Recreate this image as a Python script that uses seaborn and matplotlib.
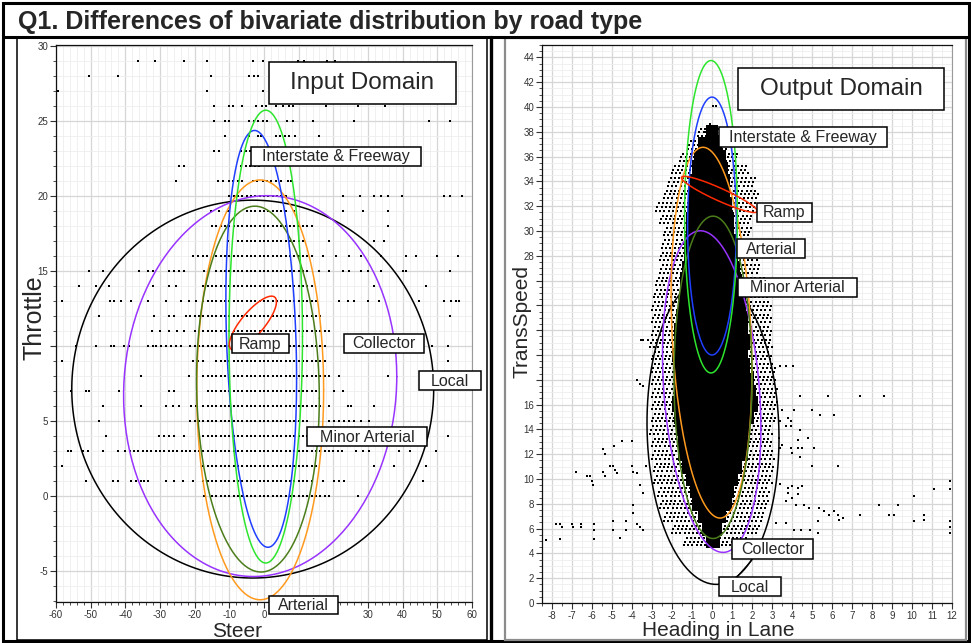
import numpy as np
import pandas as pd
import matplotlib
matplotlib.use("Agg")
import matplotlib.pyplot as plt
import seaborn as sns
from matplotlib.patches import Rectangle

sns.set_theme(style="white")
plt.rcParams['font.family'] = ['Liberation Sans', 'DejaVu Sans']
plt.rcParams['axes.unicode_minus'] = False

W, H = 971, 643

title = "Q1. Differences of bivariate distribution by road type"
road_types = ["Local", "Collector", "Arterial", "Minor Arterial",
              "Interstate", "Freeway", "Ramp"]
road_colors = ["#000000", "#9933ff", "#ff9a1f", "#4b7d1a",
               "#1f3fff", "#2ee52e", "#ff2a00"]

# density ellipses, input domain (Steer x Throttle): centre, spread, correlation
in_cx = [-3.25, -1.1, -1.1, -1.75, -0.8, 0.5, -3.2]
in_cy = [7.1, 7.3, 7.05, 7.1, 10.45, 10.6, 11.5]
in_sx = [52.2, 39.4, 18.3, 17.7, 10.2, 10.6, 6.8]
in_sy = [12.6, 12.7, 14.0, 12.2, 13.9, 15.1, 1.8]
in_rho = [0.0, 0.05, 0.0, -0.05, -0.19, 0.0, 0.79]

# density ellipses, output domain (Heading in Lane x TransSpeed)
out_cx = [0.05, -0.015, -0.025, 0.05, 0.0, -0.05, 0.37]
out_cy = [13.9, 17.05, 21.8, 18.2, 30.4, 31.15, 32.95]
out_sx = [3.3, 2.46, 2.02, 1.95, 1.22, 1.32, 1.9]
out_sy = [12.4, 12.97, 14.95, 13.0, 10.4, 12.6, 1.46]
out_rho = [-0.05, -0.23, -0.21, 0.0, 0.0, 0.0, -0.925]

# input points: filled runs of steer values (1.25 deg grid) per throttle row
in_run_throttle = [20, 19, 18, 17, 16, 15, 14, 13, 12, 11, 10,
                   9, 8, 7, 6, 5, 4, 3, 2, 1, 0]
in_run_lo = [-10.5, -6.2, -15.3, -7.6, -14.8, -14.8, -18.7, -17.7, -23.5, -20.0, -22.0,
             -14.8, -18.7, -16.3, -17.7, -21.5, -18.7, -40.0, -18.7, -17.7, -15.8]
in_run_hi = [7.3, 7.3, 14.0, 12.1, 14.0, 13.1, 14.0, 15.0, 16.9, 19.0, 17.9,
             17.9, 17.9, 16.0, 16.9, 13.1, 13.1, 23.0, 15.0, 14.0, 19.8]

# input points: isolated steer values per throttle row
in_loose = {
    29: [-36.3, -31.4, -23.2, -16.3, -3.1, -0.2, 9.9, 11.6, 18.1, 20.6],
    28: [-50.4, -42.2, -15.2, -4.2, -3.0, -1.6],
    27: [-59.5, -16.3, -0.4],
    26: [-14.3, -10.2, -9.0, -6.4, -2.3, -0.7, 0.6, 3.5, 5.4, 7.3, 8.3, 18.0, 27.0, 35.0],
    25: [-14.3, -11.2, -10.2, -4.2, -3.0, -1.6, -0.4, 0.8, 6.5, 8.3, 14.0, 25.9, 47.7, 53.7],
    24: [-11.2, -4.2, -1.8, -0.8, 3.5, 4.6, 6.0, 7.3, 9.0, 16.0],
    23: [-14.3, -13.1, -6.6, -5.2, -3.9, -2.6],
    22: [-24.4, -23.2, -6.6, -5.2, -3.9, -2.6, -1.3],
    21: [-25.4, -13.4, -11.9, -10.2, -9.0, -7.6, -6.3, -3.3, -2.0, -0.4, 0.8, 2.0,
         3.5, 4.9, 6.8, 7.8],
    20: [22.7, 27.8, 31.8, 33.7, 35.7, 39.8, 51.8, 53.7, 57.0],
    19: [-15.3, -12.9, -10.5, 8.7, 22.7, 28.5, 35.7],
    18: [35.7],
    17: [-10.5, 18.8, 31.8, 34.7],
    16: [-20.6, -19.1, -17.7, -16.3, 16.9, 20.8, 24.6, 28.0, 33.7, 41.0, 43.8, 49.9, 55.9],
    15: [-50.4, -46.5, -36.0, -33.6, -32.1, -27.3, -25.9, -24.4, -23.0, -17.2, 16.0,
         18.8, 22.7, 24.6, 28.0, 29.9, 33.7, 40.0, 41.0, 53.7],
    14: [-53.3, -48.5, -44.6, -32.1, -27.3, -25.4, 31.8, 46.7],
    13: [-58.3, -44.3, -43.2, -41.3, -38.4, -33.6, -28.3, -23.9, -21.7, -19.6, 21.7,
         24.1, 26.1, 29.9, 33.3, 44.8, 52.0, 53.9, 55.4, 56.3],
    12: [-47.5, -31.6, -27.3, -25.9, 53.7],
    11: [-32.4, -30.0, -27.3, -25.0, -23.0],
    10: [-54.2, -48.5, -44.1, -43.2, -40.3, -38.8, -33.6, -32.1, -31.2, -29.7, -28.3,
         -26.8, -25.4, -23.9, 48.6, 53.0],
    9: [-58.3, -20.6, -19.1, -17.7, 53.0],
    8: [-35.5, -21.5, 18.8, 21.7, 35.7],
    7: [-55.7, -51.3, -50.4, -41.7, -27.3, -25.9, 20.3, 22.7],
    6: [-46.5, -35.5, -28.3, -26.3, -24.4, -21.1, -19.6, 18.8, 24.1, 25.1, 31.8],
    5: [-47.5, 18.8, 20.3, 21.7, 23.2, 24.6, 26.1, 28.0, 30.4],
    4: [-45.6, -30.2, -28.8, -27.3, -25.9, -23.0, 53.0],
    3: [-56.6, -55.7, -52.3, -50.9, -46.5, -42.2, 26.5, 28.5, 30.4, 39.0, 42.0, 49.6],
    2: [-58.3, 31.8, 37.6, 46.7],
    1: [-51.3, -43.7, -42.2, -38.4, -36.9, -35.5, -34.5, -33.6, -28.3, -25.9, -23.5,
        -20.6, 16.9, 20.3, 21.7, 23.2, 45.8],
    0: [-17.2, 27.0],
}

# output points: dense core and speckled halo extents of heading per speed level
out_level = [38, 37, 36, 35, 34, 33, 32, 31, 30, 29, 28, 27, 26, 25, 24, 23, 22,
             21, 20, 19, 18, 17, 16, 15, 14, 13, 12, 11, 10, 9, 8, 7, 6, 5]
out_core_lo = [-0.2, -0.6, -0.8, -0.9, -1.0, -1.1, -1.1, -1.2, -1.2, -1.3, -1.3, -1.4,
               -1.5, -1.5, -1.6, -1.7, -1.8, -1.8, -1.9, -1.8, -1.8, -1.8, -1.9, -1.8,
               -1.7, -1.6, -1.6, -1.4, -1.2, -1.0, -0.9, -0.6, -0.4, -0.2]
out_core_hi = [0.2, 0.4, 0.6, 0.7, 0.8, 0.8, 0.9, 1.0, 1.0, 1.1, 1.2, 1.3,
               1.4, 1.5, 1.6, 1.7, 1.7, 1.8, 1.7, 1.8, 2.0, 2.1, 2.2, 2.0,
               1.8, 1.7, 1.7, 1.4, 1.2, 1.0, 0.9, 0.6, 0.4, 0.3]
out_halo_lo = [-0.7, -1.2, -1.6, -2.0, -2.2, -2.4, -2.8, -2.6, -2.4, -2.5, -2.6, -2.6,
               -2.8, -2.9, -3.0, -3.0, -3.0, -3.1, -3.0, -3.0, -3.0, -3.0, -3.0, -3.0,
               -3.1, -3.0, -3.0, -2.9, -2.9, -2.7, -2.6, -2.4, -2.0, -1.4]
out_halo_hi = [0.6, 0.9, 1.3, 1.8, 2.2, 2.3, 2.2, 2.0, 2.0, 2.2, 2.3, 2.4,
               2.6, 2.8, 3.0, 3.0, 3.0, 3.0, 3.0, 3.2, 3.2, 3.3, 3.3, 3.2,
               3.0, 3.0, 3.1, 3.1, 3.0, 2.9, 2.8, 2.6, 2.4, 1.8]

# output points: isolated observations
out_loose_x = [-8.32, -7.82, -7.6, -7.52, -7.6, -7.02, -6.94, -6.8, -6.57, -6.57,
               -6.27, -6.1, -6.02, -5.94, -5.9, -5.9, -5.9, -5.44, -5.35, -5.44, -5.35,
               -5.1, -4.94, -4.85, -4.77, -4.9, -4.94, -4.94, -4.6, -4.52, -4.3, -4.3,
               -4.02, -4.02, -3.94, -3.77, -3.94, -3.94, -3.77, -3.6, -3.44, -3.77,
               -3.6, -3.44, -3.6, -3.44, -3.53, -3.2, -3.44, -3.3,
               -0.3, -0.1, 0.05, 0.2, 0.3,
               3.38, 3.71, 4.07, 4.42, 5.79, 7.42, 8.58, 3.51, 4.12, 5.0, 5.4, 6.09,
               3.38, 3.79, 3.96, 3.71, 3.96, 4.42, 4.32, 4.79, 3.38, 3.51, 3.96, 4.01,
               4.29, 4.5, 5.12, 4.42, 5.0, 6.29, 3.38, 3.79, 4.01, 4.29, 4.5, 3.79,
               4.29, 4.01, 3.71, 4.21, 4.62, 4.87, 5.37, 5.62, 5.87, 6.12, 6.29, 6.37,
               6.54, 5.29, 8.33, 9.32, 7.42, 8.83, 9.08, 10.08, 10.61, 10.61, 10.08,
               11.11, 11.91, 11.91, 11.91, 11.91, 11.91, 4.12, 4.45, 4.9, 5.29, 3.21,
               3.71]
out_loose_y = [5.05, 6.37, 6.37, 6.1, 5.18, 6.37, 6.1, 10.54, 6.37, 6.1,
               10.21, 10.21, 9.8, 9.54, 6.37, 5.91, 5.18, 12.42, 12.04, 10.54, 10.21,
               11.02, 11.02, 10.75, 10.48, 12.68, 6.64, 5.91, 5.24, 13.03, 6.64, 5.91,
               13.03, 11.02, 10.54, 10.48, 7.93, 7.26, 6.37, 6.1, 5.91, 17.98,
               17.7, 17.47, 9.49, 8.87, 21.2, 21.2, 21.2, 11.02,
               38.0, 38.6, 40.1, 40.1, 38.2,
               19.14, 19.14, 19.14, 16.66, 16.66, 16.66, 16.66, 15.53, 15.53, 15.53, 15.19, 15.19,
               14.65, 14.92, 14.65, 14.25, 14.25, 13.98, 13.17, 13.31, 12.5, 12.77, 12.5, 12.1,
               12.5, 12.5, 12.5, 11.78, 11.08, 11.08, 9.6, 9.28, 9.46, 9.28, 9.46, 8.87,
               8.82, 8.47, 8.2, 7.93, 7.93, 7.66, 7.66, 7.39, 7.12, 7.39, 7.12, 6.72,
               6.85, 6.58, 7.93, 7.93, 7.12, 7.12, 7.12, 8.6, 7.12, 6.66, 6.58,
               9.2, 9.82, 9.2, 6.58, 6.13, 5.64, 5.91, 5.91, 5.91, 5.64, 6.45,
               6.45]

# tick labels that sit behind axis titles / label boxes in the reference
in_hidden_xticks = [10, 20]
in_hidden_yticks = [10]
out_hidden_yticks = [18, 20, 22, 24, 26]


def ellipse(cx, cy, sx, sy, rho):
    t = np.linspace(0, 2 * np.pi, 240)
    ex = cx + sx * np.cos(t)
    ey = cy + sy * (rho * np.cos(t) + np.sqrt(1 - rho ** 2) * np.sin(t))
    return ex, ey


def tick_text(values, hidden):
    return ["" if v in hidden else str(v) for v in values]


# build point tables
pts = []
for thr, lo, hi in zip(in_run_throttle, in_run_lo, in_run_hi):
    for s in np.arange(np.ceil(lo / 1.25), np.floor(hi / 1.25) + 1) * 1.25:
        pts.append((s, thr))
for thr, xs in in_loose.items():
    for s in xs:
        pts.append((s, thr))
df_in = pd.DataFrame(pts, columns=["Steer", "Throttle"])

core, spread = [], []
for i, lev in enumerate(out_level):
    for dy in (-0.4, -0.2, 0.0, 0.2, 0.4):
        for hx in np.arange(out_core_lo[i], out_core_hi[i] + 1e-9, 0.1):
            core.append((hx, lev + dy))
    for k, dy in enumerate((-0.35, -0.05, 0.25)):
        for hx in np.arange(out_halo_lo[i] + 0.07 * k, out_halo_hi[i], 0.21):
            if hx < out_core_lo[i] or hx > out_core_hi[i]:
                spread.append((hx, lev + dy))
for hx, sp in zip(out_loose_x, out_loose_y):
    spread.append((hx, sp))
df_core = pd.DataFrame(core, columns=["Heading", "TransSpeed"])
df_spread = pd.DataFrame(spread, columns=["Heading", "TransSpeed"])

fig = plt.figure(figsize=(W / 100, H / 100), dpi=100)
fig.patch.set_facecolor("white")


def px_axes(x0, y0, x1, y1):
    return fig.add_axes([x0 / W, 1 - y1 / H, (x1 - x0) / W, (y1 - y0) / H])


def style_axes(ax, xmaj, xmin, ymaj, ymin):
    ax.set_facecolor("white")
    ax.set_xticks(xmaj)
    ax.set_xticks(xmin, minor=True)
    ax.set_yticks(ymaj)
    ax.set_yticks(ymin, minor=True)
    ax.grid(which="major", color="#d6d6d6", lw=0.9)
    ax.grid(which="minor", color="#eeeeee", lw=0.6)
    ax.set_axisbelow(True)
    ax.tick_params(which="major", direction="out", length=4, width=0.8,
                   color="#333333", labelsize=7, labelcolor="#333333", pad=1.5,
                   bottom=True, left=True)
    ax.tick_params(which="minor", direction="out", length=2.5, width=0.6,
                   color="#333333", bottom=True, left=True)
    for side in ["left", "bottom", "top"]:
        ax.spines[side].set_color("#111111")
        ax.spines[side].set_linewidth(0.9)
    ax.spines["right"].set_color("#999999")
    ax.spines["right"].set_linewidth(0.8)
    ax.set_xlabel("")
    ax.set_ylabel("")


# ---- Input domain ----
ax1 = px_axes(56, 45, 472, 602)
sns.scatterplot(data=df_in, x="Steer", y="Throttle", ax=ax1, marker="s", s=2.8,
                color="black", linewidth=0, legend=False, zorder=2)
for i in range(len(road_types)):
    ex, ey = ellipse(in_cx[i], in_cy[i], in_sx[i], in_sy[i], in_rho[i])
    ax1.plot(ex, ey, color=road_colors[i], lw=1.1, zorder=3)
ax1.set_xlim(-60, 60)
ax1.set_ylim(-7.1, 30.05)
in_xt = np.arange(-60, 61, 10)
in_yt = np.arange(-5, 31, 5)
style_axes(ax1, in_xt, np.arange(-60, 61, 2), in_yt, np.arange(-7, 31, 1))
ax1.set_xticklabels(tick_text(in_xt, in_hidden_xticks))
ax1.set_yticklabels(tick_text(in_yt, in_hidden_yticks))

# ---- Output domain ----
ax2 = px_axes(542, 45, 952, 603)
sns.scatterplot(data=df_core, x="Heading", y="TransSpeed", ax=ax2, marker="s", s=7,
                color="black", linewidth=0, legend=False, zorder=2)
sns.scatterplot(data=df_spread, x="Heading", y="TransSpeed", ax=ax2, marker="s", s=2.6,
                color="black", linewidth=0, legend=False, zorder=2)
for i in range(len(road_types)):
    ex, ey = ellipse(out_cx[i], out_cy[i], out_sx[i], out_sy[i], out_rho[i])
    ax2.plot(ex, ey, color=road_colors[i], lw=1.1, zorder=3)
ax2.set_xlim(-8.5, 12)
ax2.set_ylim(0, 45)
out_yt = np.arange(0, 45, 2)
style_axes(ax2, np.arange(-8, 13, 1), np.arange(-8.5, 12.1, 0.5),
           out_yt, np.arange(0, 45.1, 0.5))
ax2.set_yticklabels(tick_text(out_yt, out_hidden_yticks))

# ---- frames, title, labels (pixel overlay) ----
fg = fig.add_axes([0, 0, 1, 1], zorder=10)
fg.set_xlim(0, W)
fg.set_ylim(H, 0)
fg.axis("off")
fg.patch.set_alpha(0)

fg.add_patch(Rectangle((3, 3), 966, 638, fill=False, edgecolor="black", lw=2.2))
fg.plot([3, 969], [37, 37], color="black", lw=2.2)
fg.plot([491, 491], [37, 641], color="black", lw=2.4)
fg.add_patch(Rectangle((17, 38), 470, 602, fill=False, edgecolor="black", lw=1.1))
fg.add_patch(Rectangle((505, 38), 461, 602, fill=False, edgecolor="#8c8c8c", lw=1.6))

fg.text(18, 29, title, fontsize=18, fontweight="bold", ha="left", va="baseline")

fg.text(34, 318, "Throttle", fontsize=18, rotation=90, ha="center", va="center")
fg.text(237, 637, "Steer", fontsize=15, ha="center", va="baseline")
fg.text(522, 322, "TransSpeed", fontsize=15, rotation=90, ha="center", va="center")
fg.text(718, 636, "Heading in Lane", fontsize=15, ha="center", va="baseline")


def label_box(x0, y0, x1, y1, text, size=11.5):
    fg.add_patch(Rectangle((x0, y0), x1 - x0, y1 - y0, facecolor="white",
                           edgecolor="black", lw=1.1))
    fg.text((x0 + x1) / 2, (y0 + y1) / 2 + 0.5, text, fontsize=size,
            ha="center", va="center")


# leader line from Local ellipse to its box (output domain)
fg.plot([752, 737], [560, 577], color="black", lw=0.9)

label_box(269, 62, 456, 104, "Input Domain", size=17.5)
label_box(251, 147, 421, 166, "Interstate & Freeway")
label_box(232, 334, 289, 353, "Ramp")
label_box(344, 334, 424, 353, "Collector")
label_box(419, 371, 481, 390, "Local")
label_box(307, 427, 427, 446, "Minor Arterial")
label_box(269, 596, 338, 614, "Arterial")

label_box(738, 68, 944, 110, "Output Domain", size=17.5)
label_box(719, 127, 887, 147, "Interstate & Freeway")
label_box(757, 203, 812, 222, "Ramp")
label_box(737, 239, 805, 258, "Arterial")
label_box(738, 278, 857, 297, "Minor Arterial")
label_box(732, 539, 813, 559, "Collector")
label_box(719, 577, 781, 596, "Local")

fig.savefig("out.png", dpi=100, facecolor="white")
